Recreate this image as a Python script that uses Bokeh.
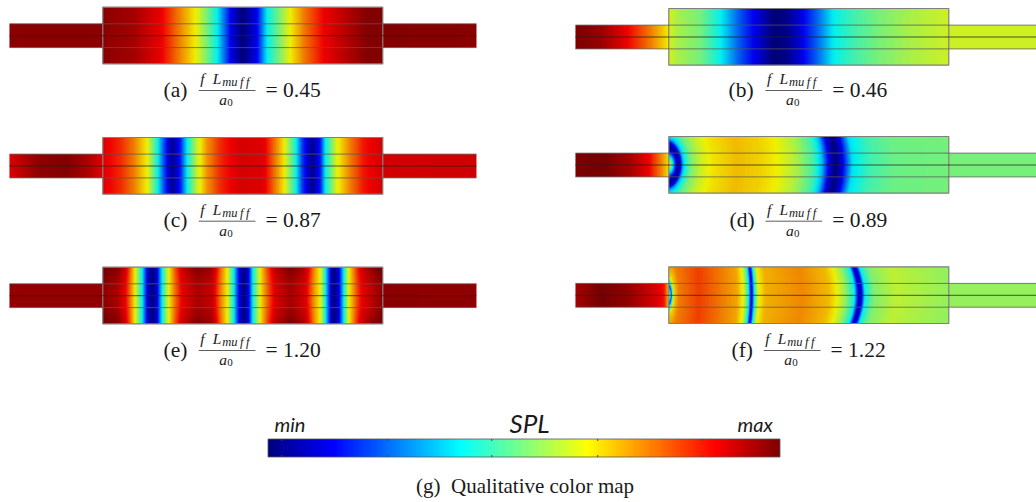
import numpy as np
from bokeh.core.properties import value
from bokeh.embed import file_html
from bokeh.models import LinearColorMapper, Range1d
from bokeh.plotting import figure
from bokeh.resources import INLINE

# Axial stations along each muffler (chamber = 0..840, pipes beyond) and the SPL read there.
pos_a = [-280, 0, 93, 173, 233, 278, 313, 343, 383, 418, 463, 493, 528, 563, 603, 663, 743, 793, 840, 1130]
spl_a = [.97, .97, .93, .83, .69, .59, .47, .36, .12, 0, .12, .36, .47, .59, .7, .82, .92, .98, .98, .97]
pos_b = [-280, -205, -125, -55, -5, 0, 25, 95, 155, 215, 265, 315, 355, 395, 445, 495, 555, 625, 725, 841, 1130]
spl_b = [.99, .95, .82, .7, .6, .57, .52, .47, .36, .2, .1, 0, .02, .1, .22, .36, .42, .47, .52, .555, .555]
pos_c = [-280, -197, -107, -47, 0, 53, 93, 133, 163, 183, 208, 233, 253, 283, 313, 353, 413, 483, 513, 543, 578, 598, 628, 653, 668, 703, 743, 783, 840, 1130]
spl_c = [.85, .96, .98, .92, .84, .78, .7, .59, .38, .2, .02, .15, .36, .55, .68, .78, .86, .84, .72, .6, .38, .18, .02, .15, .36, .58, .7, .8, .86, .87]
pos_d = [-280, -195, -115, -60, -25, 0, 6, 12, 20, 28, 36, 42, 50, 65, 95, 130, 205, 275, 325, 385, 435, 460, 480, 500, 520, 550, 605, 675, 841, 1130]
spl_d = [.99, 1, .93, .82, .7, .6, .5, .36, .15, .02, .12, .3, .38, .47, .55, .6, .64, .62, .59, .52, .42, .3, .1, 0, .1, .34, .42, .46, .47, .47]
pos_e = [-280, 0, 43, 68, 93, 118, 133, 148, 163, 178, 198, 218, 238, 283, 328, 353, 373, 393, 408, 423, 438, 450, 473, 493, 518, 563, 608, 633, 653, 668, 683, 693, 708, 723, 738, 763, 778, 840, 1130]
spl_e = [.96, .96, .92, .82, .62, .36, .1, 0, .1, .36, .59, .72, .83, .92, .88, .7, .59, .36, .12, 0, .12, .36, .6, .72, .85, .93, .85, .68, .58, .36, .1, 0, .1, .36, .59, .75, .83, .97, .96]
pos_f = [-280, -205, -125, -45, -15, 0, 4, 7, 10, 16, 30, 90, 205, 225, 240, 245, 248, 251, 256, 268, 290, 400, 480, 500, 530, 557, 567, 573, 579, 588, 615, 680, 760, 841, 1130]
spl_f = [.93, 1, .96, .86, .8, .62, .4, .15, .4, .62, .7, .76, .66, .57, .36, .16, .08, .16, .36, .58, .65, .69, .64, .6, .5, .36, .12, .05, .12, .36, .48, .54, .52, .5, .5]

labels = ["(a)", "(b)", "(c)", "(d)", "(e)", "(f)"]
ratios = ["0.45", "0.46", "0.87", "0.89", "1.20", "1.22"]
positions = [pos_a, pos_b, pos_c, pos_d, pos_e, pos_f]
levels = [spl_a, spl_b, spl_c, spl_d, spl_e, spl_f]

# Layout, in page pixels
chamber_left = [102.3, 668.3, 102.3, 668.3, 102.3, 668.3]
chamber_top = [6.7, 8.0, 137.0, 136.0, 266.7, 266.3]
chamber_h = 56.7
chamber_w = 280.0
pipe_inset = 16.6
pipe_h = 23.8
label_x = [163, 728, 163, 729, 163, 731]
bar_x = [198.3, 765, 198.3, 765, 198.3, 763.3]
eq_x = [265, 831.7, 265, 831.7, 265, 830]
bar_y = [90, 90, 220.7, 220.7, 350, 350]
# Wavefront bowing of the higher-order field
curve_a = [0, 0, 0, .55, 0, -.16]
curve_b = [0, 0, 0, .0046, 0, .0097]
curve_min = [0, 0, 0, 0, 0, .28]
edge_gain = [0, 0, 0, 0, .07, 0]

read_scale = [0, .12, .356, .59, .82, 1]
jet_scale = [0, .125, .375, .625, .875, 1]
stops = np.array([[0, 0, 127], [0, 0, 255], [0, 255, 255], [255, 255, 0], [255, 0, 0], [127, 0, 0]], float)
t = np.linspace(0, 1, 256)
rgb = np.column_stack([np.interp(t, jet_scale, stops[:, i]) for i in range(3)])


def make_palette(gain):
    return ["#%02x%02x%02x" % tuple(c) for c in (rgb * gain).round().astype(int)]


bar_mapper = LinearColorMapper(palette=make_palette(1.0), low=0, high=1)
mapper = LinearColorMapper(palette=make_palette(0.94), low=0, high=1)

p = figure(width=1036, height=502, x_range=Range1d(0, 1036), y_range=Range1d(0, 502),
           x_axis_type=None, y_axis_type=None, toolbar_location=None, output_backend="svg",
           min_border=0, outline_line_color=None, background_fill_color="white", border_fill_color="white")
p.grid.visible = False


def Y(py):
    return 502 - py


def to_cmap(raw):
    return np.interp(raw, read_scale, jet_scale)


serif = value("Liberation Serif")


def label(x, y, s, size, italic=False, font=serif):
    p.text(x=[x], y=[Y(y - 0.36 * size)], text=[s], text_font=font, text_font_size=f"{size}px",
           text_font_style="italic" if italic else "normal", text_baseline="alphabetic",
           text_align="left", text_color="#1a1a1a")


for i in range(6):
    x0, top = chamber_left[i], chamber_top[i]
    pos, spl = np.array(positions[i], float), np.array(levels[i], float)
    px_top, px_bot = top + pipe_inset, top + pipe_inset + pipe_h
    mid = (px_top + px_bot) / 2
    # pipes
    u_in = np.linspace(-280, 0, 281)
    u_out = np.linspace(840, 1121, 282)
    for u, xa in ((u_in, x0 - 280 / 3), (u_out, x0 + chamber_w)):
        arr = to_cmap(np.interp(u, pos, spl))[None, :]
        p.image(image=[arr], x=xa, y=Y(px_bot), dw=(u[-1] - u[0]) / 3, dh=pipe_h, color_mapper=mapper)
    # chamber field
    xs = np.linspace(0, chamber_w, 561)
    ys = np.linspace(-chamber_h / 2, chamber_h / 2, 114)
    dx, dy = np.meshgrid(xs, ys)
    k = np.maximum(curve_min[i], curve_a[i] + curve_b[i] * dx)
    r = np.hypot(dx, k * dy)
    raw = np.interp(r * 3, pos, spl)
    raw = raw + edge_gain[i] * (2 * dy / chamber_h) ** 2 * np.clip((raw - .6) / .3, 0, 1)
    p.image(image=[to_cmap(np.clip(raw, 0, 1))], x=x0, y=Y(top + chamber_h), dw=chamber_w, dh=chamber_h,
            color_mapper=mapper)
    # mesh lines and outlines
    xl, xr = x0 - 280 / 3, x0 + chamber_w + 281 / 3
    p.quad(left=[x0], right=[x0 + chamber_w], top=[Y(top)], bottom=[Y(top + chamber_h)], fill_color=None,
           line_color="#7f7f7f", line_width=1.2)
    for yy, col, a in ((px_top, "#555555", .75), (mid, "#222222", .75), (px_bot, "#555555", .75)):
        p.line(x=[xl, xr], y=[Y(yy), Y(yy)], line_color=col, line_alpha=a, line_width=1)
    # caption
    by, bx = bar_y[i], bar_x[i]
    label(label_x[i], by + 7, labels[i], 21.5)
    p.line(x=[bx, bx + 56.7], y=[Y(by), Y(by)], line_color="#333333", line_width=0.8)
    label(bx + 1.5, by - 6.5, "f", 15.5, True)
    label(bx + 14, by - 6.5, "L", 15.5, True)
    label(bx + 23.5, by - 4, "mu\u2009f\u2009f", 12.5, True)
    label(bx + 20.5, by + 15, "a", 15.5, True)
    label(bx + 28.5, by + 16, "0", 11)
    label(eq_x[i], by + 7, f"= {ratios[i]}", 21.5)

# Colour bar
bar_vals = np.linspace(0, 1, 512)[None, :]
p.image(image=[bar_vals], x=267.5, y=Y(456.5), dw=512, dh=18, color_mapper=bar_mapper)
p.quad(left=[267.5], right=[779.5], top=[Y(438.5)], bottom=[Y(456.5)], fill_color=None, line_color="#555555",
       line_width=0.8)
bar_ticks = [.027, .234, .437, .644, .848]
for tk in bar_ticks:
    xt = 267.5 + 512 * tk
    p.line(x=[xt, xt], y=[Y(438.5), Y(440.5)], line_color="#444444", line_width=1)
    p.line(x=[xt, xt], y=[Y(454.5), Y(456.5)], line_color="#444444", line_width=1)
sans = value("Lato")
label(274, 431, "min", 20, True, sans)
label(737, 431, "max", 20, True, sans)
label(509, 432, "SPL", 26, True, sans)
label(415.5, 493, "(g)\u2002Qualitative color map", 21)

open("out.html", "w").write(file_html(p, INLINE))
